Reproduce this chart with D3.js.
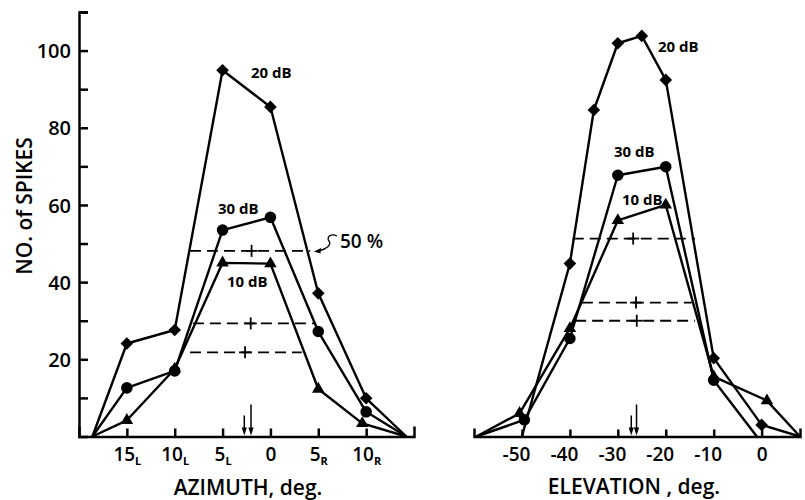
<!DOCTYPE html>
<html>
<head>
<meta charset="utf-8">
<script src="https://cdn.jsdelivr.net/npm/d3@7/dist/d3.min.js"></script>
<style>
  html, body { margin: 0; padding: 0; background: #fff; }
  svg { display: block; }
  text { font-family: "Open Sans", "DejaVu Sans", sans-serif; fill: #000; }
</style>
</head>
<body>
<svg id="chart" width="805" height="500"></svg>
<script>
// ---------------- DATA ----------------
// Left panel: azimuth (deg, L negative / R positive)
const azTickValues = [-15, -10, -5, 0, 5, 10];
const azTickLabels = [["15", "L"], ["10", "L"], ["5", "L"], ["0", ""], ["5", "R"], ["10", "R"]];
const az20dB = [[-18.6, 0], [-15, 24.1], [-10, 27.6], [-5, 94.9], [0, 85.4], [5, 37.1], [10, 9.9], [14.2, 0]];
const az30dB = [[-18.6, 0], [-15, 12.6], [-10, 17.0], [-5, 53.5], [0, 56.8], [5, 27.2], [10, 6.4], [14.2, 0]];
const az10dB = [[-18.6, 0], [-15, 4.2], [-10, 17.5], [-5, 45.0], [0, 44.8], [5, 12.3], [9.6, 3.4], [14.2, 0]];
// half-max lines: [level, from, to, centre]
const azHalf = [[48.1, -8.4, 4.15, -1.97], [29.3, -8.1, 4.66, -2.06], [21.8, -8.4, 3.27, -2.65]];
// centre arrows: [position, tall?]
const azArrows = [[-2.73, false], [-2.03, true]];

// Right panel: elevation (deg)
const elTickValues = [-50, -40, -30, -20, -10, 0];
const elTickLabels = ["-50", "-40", "-30", "-20", "-10", "0"];
const el20dB = [[-50, 0], [-40, 44.8], [-35, 84.6], [-30, 101.9], [-25, 103.8], [-20, 92.4], [-10, 20.3], [0, 3.0], [8, 0]];
const el30dB = [[-59.5, 0], [-49.5, 4.3], [-40, 25.4], [-30, 67.7], [-20, 69.9], [-10, 14.6], [-1, 0]];
const el10dB = [[-59.5, 0], [-50.5, 6.0], [-40, 28.0], [-30, 56.0], [-20, 60.0], [-10, 15.5], [1.1, 9.3], [8, 0]];
const elHalf = [[51.3, -39.4, -13.9, -26.8], [34.7, -37.5, -14.6, -26.2], [30.0, -38.9, -13.9, -26.05]];
const elArrows = [[-27.2, false], [-26.1, true]];

const yTickValues = [10, 20, 30, 40, 50, 60, 70, 80, 90, 100, 110];
const yTickLabels = {20: "20", 40: "40", 60: "60", 80: "80", 100: "100"};

// ---------------- DRAWING ----------------
const svg = d3.select("#chart");
const y = d3.scaleLinear().domain([0, 110]).range([436.5, 12]);
const xL = d3.scaleLinear().domain([-20, 15]).range([79, 414]);
const xR = d3.scaleLinear().domain([-60, 8]).range([474, 800]);

// Y axis (left panel)
const yAxis = d3.axisLeft(y).tickValues(yTickValues).tickSize(-9).tickSizeOuter(-9).tickPadding(8)
  .tickFormat(d => yTickLabels[d] || "");
const gy = svg.append("g").attr("transform", `translate(${xL(-20)},0)`).call(yAxis);
gy.selectAll("path, line").attr("stroke", "#000").attr("stroke-width", 2.5);
gy.selectAll("text").attr("font-size", 20).attr("font-weight", 600).attr("dy", "0.36em");

// X axis left
const axL = d3.axisBottom(xL).tickValues(azTickValues).tickSize(-8).tickSizeOuter(-10).tickFormat(() => "");
const gxl = svg.append("g").attr("transform", `translate(0,${y(0)})`).call(axL);
gxl.selectAll("path, line").attr("stroke", "#000").attr("stroke-width", 2.5);
gxl.selectAll(".tick").each(function(d, i) {
  const t = d3.select(this).select("text").text(null)
    .attr("y", 24).attr("dy", 0).attr("font-size", 19).attr("font-weight", 600);
  t.append("tspan").text(azTickLabels[i][0]);
  if (azTickLabels[i][1]) t.append("tspan").text(azTickLabels[i][1]).attr("font-size", 11).attr("font-weight", 700).attr("dy", 4);
});

// X axis right
const axR = d3.axisBottom(xR).tickValues(elTickValues).tickSize(-7).tickSizeOuter(-8).tickFormat(() => "");
const gxr = svg.append("g").attr("transform", `translate(0,${y(0)})`).call(axR);
gxr.selectAll("path, line").attr("stroke", "#000").attr("stroke-width", 2.5);
gxr.selectAll(".tick text").each(function(d, i) {
  d3.select(this).text(elTickLabels[i]).attr("y", 24).attr("dy", 0)
    .attr("x", d === 0 ? 0 : -6).attr("font-size", 19).attr("font-weight", 600);
});

// Axis titles
svg.append("text").attr("x", 248).attr("y", 495).attr("text-anchor", "middle")
  .attr("font-size", 21).attr("font-weight", 600).text("AZIMUTH, deg.");
svg.append("text").attr("x", 634).attr("y", 494).attr("text-anchor", "middle")
  .attr("font-size", 21).attr("font-weight", 600).text("ELEVATION , deg.");
svg.append("text").attr("transform", "translate(32,206) rotate(-90)").attr("text-anchor", "middle")
  .attr("font-size", 21).attr("font-weight", 600).text("NO. of SPIKES");

// Half-max dashed lines with + marks, and centre arrows
function halfLines(x, data) {
  const g = svg.append("g");
  data.forEach(([lv, a, b, c]) => {
    g.append("line").attr("x1", x(a)).attr("x2", x(b)).attr("y1", y(lv)).attr("y2", y(lv))
      .attr("stroke", "#000").attr("stroke-width", 1.8).attr("stroke-dasharray", "11,6");
    g.append("line").attr("x1", x(c)).attr("x2", x(c)).attr("y1", y(lv) - 6).attr("y2", y(lv) + 6)
      .attr("stroke", "#000").attr("stroke-width", 1.8);
    g.append("line").attr("x1", x(c) - 6).attr("x2", x(c) + 6).attr("y1", y(lv)).attr("y2", y(lv))
      .attr("stroke", "#000").attr("stroke-width", 1.8);
  });
}
function arrows(x, data) {
  data.forEach(([p, tall]) => {
    const len = tall ? 31 : 20;
    const x0 = x(p), yb = y(0) - 1;
    svg.append("line").attr("x1", x0).attr("x2", x0).attr("y1", yb - len).attr("y2", yb - 4)
      .attr("stroke", "#000").attr("stroke-width", 1.5);
    svg.append("path").attr("d", `M${x0 - 2.6},${yb - 8} L${x0 + 2.6},${yb - 8} L${x0},${yb} Z`).attr("fill", "#000");
  });
}
halfLines(xL, azHalf);
halfLines(xR, elHalf);
arrows(xL, azArrows);
arrows(xR, elArrows);

// Series
const series = [
  {L: az20dB, R: el20dB, sym: "diamond"},
  {L: az30dB, R: el30dB, sym: "circle"},
  {L: az10dB, R: el10dB, sym: "triangle"}
];
function drawSeries(x, data, sym) {
  const line = d3.line().x(d => x(d[0])).y(d => y(d[1]));
  svg.append("path").datum(data).attr("d", line).attr("fill", "none")
    .attr("stroke", "#000").attr("stroke-width", 2.4).attr("stroke-linejoin", "round");
  const pts = data.filter(d => d[1] > 0);
  let gen, rot = 0;
  if (sym === "diamond") { gen = d3.symbol().type(d3.symbolSquare).size(80); rot = 45; }
  else if (sym === "circle") gen = d3.symbol().type(d3.symbolCircle).size(105);
  else gen = d3.symbol().type(d3.symbolTriangle).size(68);
  svg.append("g").selectAll("path").data(pts).join("path")
    .attr("d", gen)
    .attr("transform", d => `translate(${x(d[0])},${y(d[1])}) rotate(${rot})`)
    .attr("fill", "#000");
}
series.forEach(s => { drawSeries(xL, s.L, s.sym); drawSeries(xR, s.R, s.sym); });

// Series labels
const lab = (px, py, t) => svg.append("text").attr("x", px).attr("y", py)
  .attr("font-size", 15).attr("font-weight", 700).text(t);
lab(251, 78, "20 dB");
lab(218, 214, "30 dB");
lab(227, 287, "10 dB");
lab(658, 52, "20 dB");
lab(614, 157, "30 dB");
lab(622, 205, "10 dB");

// 50 % annotation
svg.append("text").attr("x", 340).attr("y", 248).attr("font-size", 19).attr("font-weight", 600).text("50 %");
svg.append("path").attr("d", "M337,236 C331,233 326,237 329,241 C332,245 326,249 320,250.5")
  .attr("fill", "none").attr("stroke", "#000").attr("stroke-width", 1.3);
svg.append("path").attr("d", "M314,251.5 L321,248 L320.5,253.5 Z").attr("fill", "#000");
</script>
</body>
</html>
